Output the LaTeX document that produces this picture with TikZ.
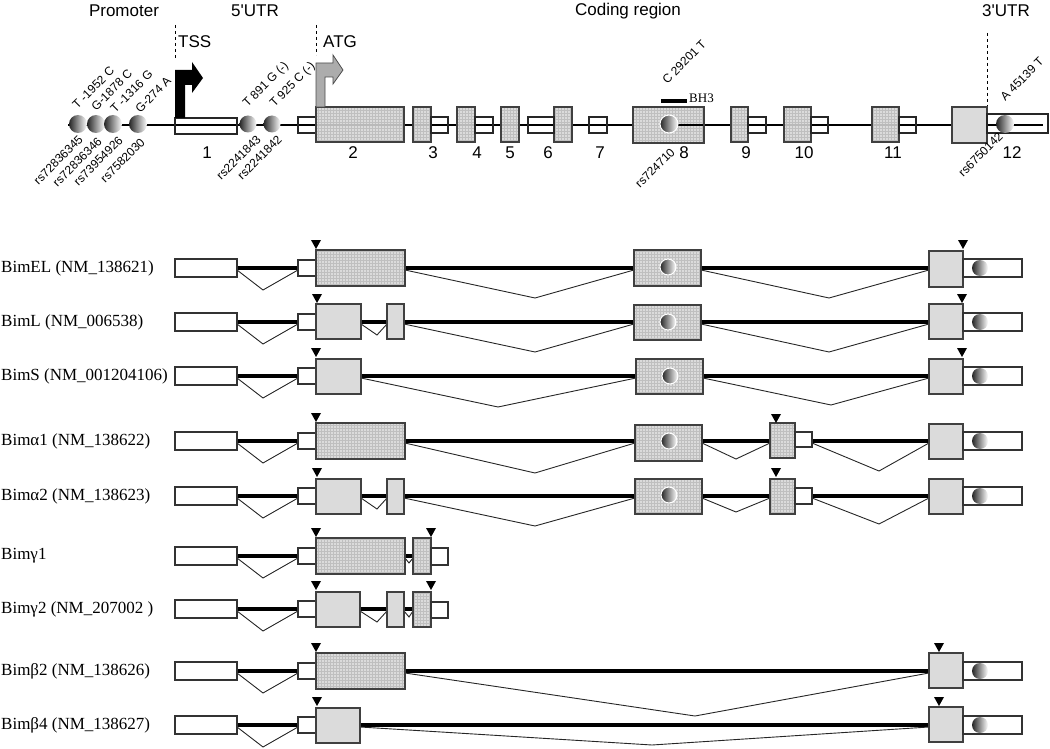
\documentclass[tikz,border=0pt]{standalone}
\usepackage{fontspec}
\setmainfont{Liberation Serif}
\newfontfamily\hv{Liberation Sans}
\usetikzlibrary{patterns}
\newcommand\GrayBox[4]{\draw[gbx] (#1,#3) rectangle (#2,#4);}
\newcommand\HatchBox[4]{\fill[gray!28] (#1,#3) rectangle (#2,#4);
  \fill[pattern=grid,pattern color=gray!50] (#1,#3) rectangle (#2,#4);
  \draw[bordr] (#1,#3) rectangle (#2,#4);}
\newcommand\OpenBox[4]{\draw[obx] (#1,#3) rectangle (#2,#4);}
\newcommand\SnpBall[3]{\shade[left color=black!85,right color=white] (#1,#2) circle[radius=#3];}
\newcommand\WBall[3]{\shade[left color=black!85,right color=white,draw=white,line width=1pt] (#1,#2) circle[radius=#3];}
\newcommand\TriMark[2]{\fill (#1-5,#2-28) -- (#1+5,#2-28) -- (#1,#2-19) -- cycle;}
\newcommand\SpliceV[5]{\draw[spl] (#1,#4+2) -- (#2,#4+#5) -- (#3,#4+2);}
\newcommand\FiveUTR[1]{\draw[thk] (237,#1) -- (298,#1);
  \SpliceV{237}{263}{298}{#1}{22}
  \OpenBox{175}{237}{#1-9}{#1+9}
  \OpenBox{298}{316}{#1-8}{#1+8}}
\newcommand\ThreeUTR[1]{\OpenBox{963}{1022}{#1-9}{#1+9}\SnpBall{980}{#1}{8}}
\begin{document}
\begin{tikzpicture}[x=1pt,y=-1pt,
 bordr/.style={draw=black!75,line width=1.1pt},
 gbx/.style={bordr,fill=gray!28},
 obx/.style={draw=black!80,line width=1.1pt,fill=white},
 tbx/.style={draw=black!85,line width=1.1pt},
 thk/.style={line width=3.5pt},
 spl/.style={line width=0.9pt,black!85},
 hdr/.style={font=\hv\fontsize{17}{17}\selectfont,inner sep=0pt},
 snp/.style={font=\hv\fontsize{12}{12}\selectfont,rotate=45,inner sep=0.3pt},
 rowlab/.style={font=\fontsize{17}{17}\selectfont,anchor=west,inner sep=0pt},
 dsh/.style={dashed,line width=0.9pt},
]
\useasboundingbox (0,0) rectangle (1050,749);

% ---------------- headers ----------------
\node[hdr] (hprom) at (124,11) {Promoter};
\node[hdr] (h5utr) at (255,11) {5'UTR};
\node[hdr] (hcod) at (628,11) {Coding region};
\node[hdr] (h3utr) at (1006,11) {3'UTR};

\draw[dsh] (175,25) -- (175,60);
\draw[dsh] (316,25) -- (316,55);
\draw[dsh] (987,33) -- (987,107);
\node[hdr,anchor=west] (tss) at (178,42) {TSS};
\node[hdr,anchor=west] (atg) at (323,42) {ATG};

% ---------------- gene structure ----------------
\draw[line width=2.2pt] (68,125) -- (1043,125);
% exon 1 and small UTR boxes (open)
\draw[tbx] (175,118) rectangle (237,134);
\draw[tbx] (298,117) rectangle (316,133);
% coding exons
\foreach \a/\b in {316/404,413/431,457/475,501/519,554/572,731/748,784/811,872/899}{
  \HatchBox{\a}{\b}{107}{142}
  \draw[gray!55,line width=1.5pt] (\a+1,125) -- (\b-1,125);
}
\HatchBox{633}{704}{107}{143}
\draw[line width=2.2pt] (669,125) -- (703,125);
\GrayBox{952}{987}{107}{143}
% UTR parts of exons
\foreach \a/\b in {431/448,475/493,528/554,589/607,748/766,811/828,899/916}{
  \draw[tbx] (\a,117) rectangle (\b,133);
}
\draw[tbx] (987,114) rectangle (1048,133);
% SNP balls
\SnpBall{78}{124}{9}
\SnpBall{96}{124}{9}
\SnpBall{113}{124}{9}
\SnpBall{138}{124}{9}
\SnpBall{248}{124}{8.5}
\SnpBall{272}{124}{8.5}
\WBall{669}{124}{9}
\SnpBall{1005}{124}{9}
% TSS arrow
\fill (175,118) -- (175,70) -- (192,70) -- (192,62) -- (203,78) -- (192,93) -- (192,85) -- (185,85) -- (185,118) -- cycle;
% ATG arrow
\filldraw[fill=gray!65,draw=black!70,line width=0.8pt] (316,107) -- (316,63) -- (333,63) -- (333,55) -- (343,70) -- (333,84) -- (333,77) -- (325,77) -- (325,107) -- cycle;
% BH3
\fill (661,99) rectangle (687,103);
\node[font=\fontsize{13}{13}\selectfont,anchor=west,inner sep=0pt] (bh3) at (689,98) {BH3};
% exon numbers
\foreach \x/\n in {207/1,353/2,433/3,477/4,510/5,548/6,600/7,684/8,746/9,804/10,893/11,1012/12}{
  \node[hdr] (ex\n) at (\x,153) {\n};
}
% SNP labels above
\node[snp,anchor=west] (s1) at (74,107) {T -1952 C};
\node[snp,anchor=west] (s2) at (93,109) {G-1878 C};
\node[snp,anchor=west] (s3) at (112,111) {T -1316 G};
\node[snp,anchor=west] (s4) at (137,111) {G-274 A};
\node[snp,anchor=west] (s5) at (245,106) {T 891 G (-)};
\node[snp,anchor=west] (s6) at (272,106) {T 925 C (-)};
\node[snp,anchor=west] (s7) at (664,82) {C 29201 T};
\node[snp,anchor=west] (s8) at (1002,99) {A 45139 T};
% SNP labels below
\node[snp,anchor=east] (r1) at (81,137) {rs72836345};
\node[snp,anchor=east] (r2) at (100,139) {rs72836346};
\node[snp,anchor=east] (r3) at (121,138) {rs73954926};
\node[snp,anchor=east] (r4) at (143,140) {rs7582030};
\node[snp,anchor=east] (r5) at (259,137) {rs2241843};
\node[snp,anchor=east] (r6) at (280,137) {rs2241842};
\node[snp,anchor=east] (r7) at (673,150) {rs724710};
\node[snp,anchor=east] (r8) at (1001,134) {rs6750142};

% ---------------- transcripts ----------------
% BimEL
\def\y{268}
\node[rowlab] (lEL) at (1,\y) {BimEL (NM\_138621)};
\draw[thk] (405,\y) -- (634,\y); \draw[thk] (701,\y) -- (929,\y);
\SpliceV{405}{535}{634}{\y}{30}
\SpliceV{701}{829}{929}{\y}{30}
\FiveUTR{\y}
\HatchBox{316}{405}{\y-18}{\y+18}
\HatchBox{634}{701}{\y-18}{\y+18}
\WBall{668}{\y-1}{8}
\GrayBox{929}{963}{\y-17}{\y+19}
\ThreeUTR{\y}
\TriMark{316}{\y} \TriMark{963}{\y}

% BimL
\def\y{322}
\node[rowlab] (lL) at (1,\y) {BimL (NM\_006538)};
\draw[thk] (361,\y) -- (387,\y); \draw[thk] (404,\y) -- (634,\y); \draw[thk] (701,\y) -- (929,\y);
\SpliceV{361}{377}{387}{\y}{13}
\SpliceV{404}{535}{634}{\y}{30}
\SpliceV{701}{829}{929}{\y}{30}
\FiveUTR{\y}
\GrayBox{316}{361}{\y-18}{\y+17}
\GrayBox{387}{404}{\y-18}{\y+17}
\HatchBox{634}{701}{\y-17}{\y+18}
\WBall{668}{\y}{8}
\GrayBox{929}{963}{\y-18}{\y+17}
\ThreeUTR{\y}
\TriMark{317}{\y} \TriMark{962}{\y}

% BimS
\def\y{376}
\node[rowlab] (lS) at (1,\y) {BimS (NM\_001204106)};
\draw[thk] (361,\y) -- (636,\y); \draw[thk] (703,\y) -- (929,\y);
\SpliceV{361}{498}{636}{\y}{31}
\SpliceV{703}{831}{929}{\y}{29}
\FiveUTR{\y}
\GrayBox{316}{361}{\y-17}{\y+18}
\HatchBox{636}{703}{\y-17}{\y+18}
\WBall{670}{\y}{8}
\GrayBox{929}{963}{\y-17}{\y+18}
\ThreeUTR{\y}
\TriMark{316}{\y} \TriMark{962}{\y}

% Bim alpha1
\def\y{441}
\node[rowlab] (la1) at (1,\y) {Bimα1 (NM\_138622)};
\draw[thk] (405,\y) -- (635,\y); \draw[thk] (702,\y) -- (770,\y); \draw[thk] (812,\y) -- (929,\y);
\SpliceV{405}{535}{635}{\y}{32}
\SpliceV{702}{736}{770}{\y}{18}
\SpliceV{812}{879}{929}{\y}{30}
\FiveUTR{\y}
\HatchBox{316}{405}{\y-18}{\y+18}
\HatchBox{635}{702}{\y-16}{\y+20}
\WBall{669}{\y}{8}
\HatchBox{770}{795}{\y-18}{\y+17}
\OpenBox{795}{812}{\y-9}{\y+6}
\GrayBox{929}{963}{\y-17}{\y+18}
\ThreeUTR{\y}
\TriMark{316}{\y} \TriMark{776}{\y+1}

% Bim alpha2
\def\y{496}
\node[rowlab] (la2) at (1,\y) {Bimα2 (NM\_138623)};
\draw[thk] (361,\y) -- (387,\y); \draw[thk] (404,\y) -- (635,\y); \draw[thk] (702,\y) -- (770,\y); \draw[thk] (812,\y) -- (929,\y);
\SpliceV{361}{377}{387}{\y}{13}
\SpliceV{404}{535}{635}{\y}{30}
\SpliceV{702}{736}{770}{\y}{16}
\SpliceV{812}{879}{929}{\y}{28}
\FiveUTR{\y}
\GrayBox{316}{361}{\y-17}{\y+18}
\GrayBox{387}{404}{\y-17}{\y+18}
\HatchBox{635}{702}{\y-17}{\y+18}
\WBall{669}{\y-1}{8}
\HatchBox{770}{795}{\y-17}{\y+18}
\OpenBox{795}{812}{\y-8}{\y+8}
\GrayBox{929}{963}{\y-17}{\y+18}
\ThreeUTR{\y}
\TriMark{317}{\y} \TriMark{776}{\y}

% Bim gamma1
\def\y{556}
\node[rowlab] (lg1) at (1,\y) {Bimγ1};
\draw[thk] (405,\y) -- (413,\y);
\SpliceV{405}{409}{413}{\y}{7}
\FiveUTR{\y}
\HatchBox{316}{405}{\y-18}{\y+18}
\HatchBox{413}{431}{\y-18}{\y+18}
\OpenBox{431}{448}{\y-8}{\y+9}
\TriMark{316}{\y} \TriMark{431}{\y}

% Bim gamma2
\def\y{609}
\node[rowlab] (lg2) at (1,\y) {Bimγ2 (NM\_207002 )};
\draw[thk] (360,\y) -- (387,\y); \draw[thk] (404,\y) -- (413,\y);
\SpliceV{360}{377}{387}{\y}{13}
\SpliceV{404}{409}{413}{\y}{8}
\FiveUTR{\y}
\GrayBox{316}{360}{\y-17}{\y+18}
\GrayBox{387}{404}{\y-17}{\y+18}
\HatchBox{413}{431}{\y-17}{\y+18}
\OpenBox{431}{448}{\y-7}{\y+9}
\TriMark{316}{\y} \TriMark{431}{\y}

% Bim beta2
\def\y{671}
\node[rowlab] (lb2) at (1,\y) {Bimβ2 (NM\_138626)};
\draw[thk] (405,\y) -- (929,\y);
\SpliceV{405}{695}{929}{\y}{45}
\FiveUTR{\y}
\HatchBox{316}{405}{\y-18}{\y+18}
\GrayBox{929}{963}{\y-18}{\y+17}
\ThreeUTR{\y}
\TriMark{316}{\y} \TriMark{939}{\y}

% Bim beta4
\def\y{725}
\node[rowlab] (lb4) at (1,\y) {Bimβ4 (NM\_138627)};
\draw[thk] (360,\y) -- (929,\y);
\SpliceV{360}{652}{929}{\y}{20}
\FiveUTR{\y}
\GrayBox{316}{360}{\y-17}{\y+18}
\GrayBox{929}{963}{\y-18}{\y+17}
\ThreeUTR{\y}
\TriMark{317}{\y} \TriMark{939}{\y}
\end{tikzpicture}
\end{document}
